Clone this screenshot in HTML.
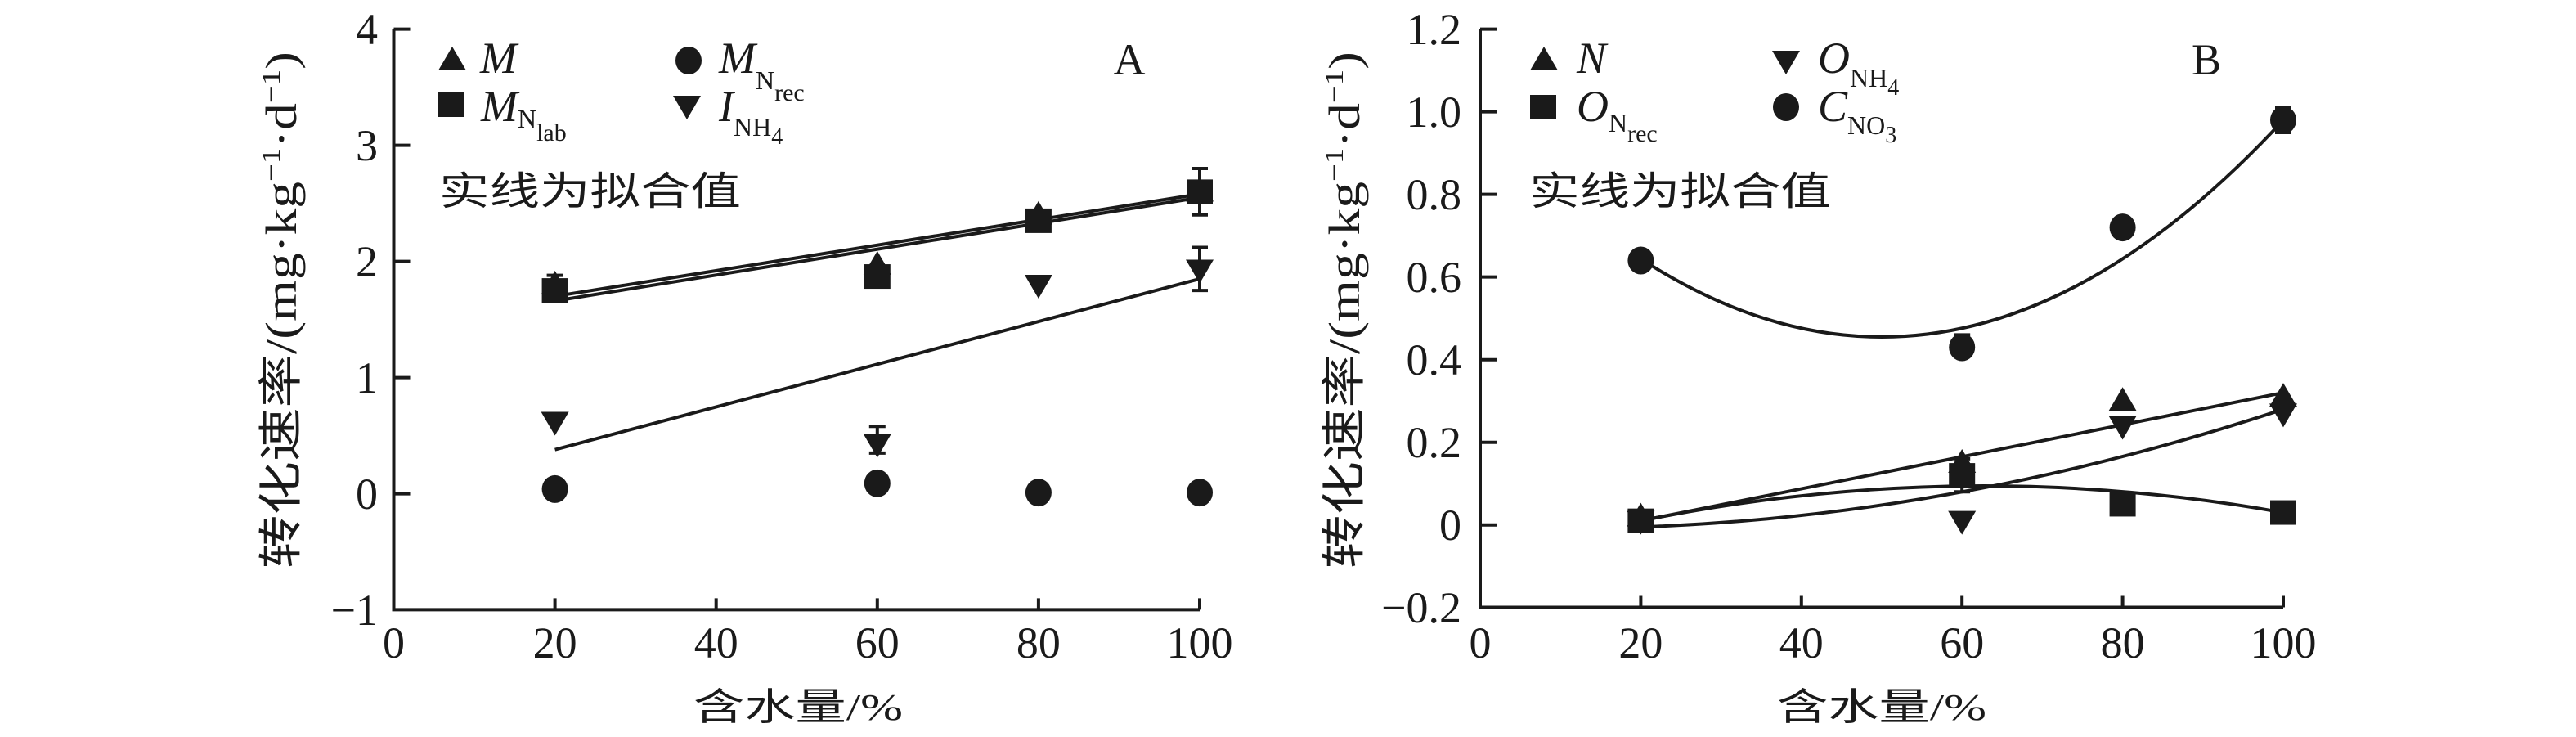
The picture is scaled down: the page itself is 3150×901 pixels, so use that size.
<!DOCTYPE html>
<html><head><meta charset="utf-8"><style>
html,body{margin:0;padding:0;background:#fff;}
svg{display:block}
text{font-family:"Liberation Serif","Noto Serif CJK SC",serif;fill:#1a1a1a}
.cj{font-family:"Liberation Serif","Noto Sans CJK SC",sans-serif}
</style></head><body>
<svg id="s" width="3150" height="901" viewBox="0 0 3150 901" xmlns="http://www.w3.org/2000/svg">
<g stroke="#1a1a1a" stroke-width="4" fill="none">
<path d="M481.5 35 V745.4 H1467"/>
<path d="M481.5 35.6 h20 M481.5 177.6 h20 M481.5 319.6 h20 M481.5 461.6 h20 M481.5 603.6 h20"/>
<path d="M678.6 745.4 v-14 M875.7 745.4 v-14 M1072.8 745.4 v-14 M1269.9 745.4 v-14 M1467 745.4 v-14"/>
<path d="M1810 35 V742.5 H2792"/>
<path d="M1810 35.6 h20 M1810 136.6 h20 M1810 237.6 h20 M1810 338.6 h20 M1810 439.7 h20 M1810 540.7 h20 M1810 641.7 h20"/>
<path d="M2006.4 742.5 v-14 M2202.8 742.5 v-14 M2399.2 742.5 v-14 M2595.6 742.5 v-14 M2792 742.5 v-14"/>
</g>
<g font-size="54" text-anchor="end">
<text x="462" y="54">4</text><text x="462" y="196">3</text><text x="462" y="338">2</text><text x="462" y="480">1</text><text x="462" y="622">0</text><text x="462" y="764">−1</text>
<text x="1787" y="54">1.2</text><text x="1787" y="155">1.0</text><text x="1787" y="256">0.8</text><text x="1787" y="357">0.6</text><text x="1787" y="458">0.4</text><text x="1787" y="559">0.2</text><text x="1787" y="660">0</text><text x="1787" y="761">−0.2</text>
</g>
<g font-size="54" text-anchor="middle">
<text x="481.5" y="804">0</text><text x="678.6" y="804">20</text><text x="875.7" y="804">40</text><text x="1072.8" y="804">60</text><text x="1269.9" y="804">80</text><text x="1467" y="804">100</text>
<text x="1810" y="804">0</text><text x="2006.4" y="804">20</text><text x="2202.8" y="804">40</text><text x="2399.2" y="804">60</text><text x="2595.6" y="804">80</text><text x="2792" y="804">100</text>
</g>
<text class="cj" x="848" y="880" font-size="46" textLength="256" lengthAdjust="spacingAndGlyphs">含水量/%</text>
<text class="cj" x="2173" y="880" font-size="46" textLength="256" lengthAdjust="spacingAndGlyphs">含水量/%</text>
<text class="cj" x="537" y="250" font-size="48" textLength="369" lengthAdjust="spacingAndGlyphs">实线为拟合值</text>
<text class="cj" x="1870" y="250" font-size="48" textLength="369" lengthAdjust="spacingAndGlyphs">实线为拟合值</text>
<g transform="translate(362,379) rotate(-90)"><text class="cj" x="-316" y="0" font-size="54" textLength="632" lengthAdjust="spacingAndGlyphs">转化速率/(mg·kg<tspan font-size="32" dy="-20">−1</tspan><tspan dy="20">·d</tspan><tspan font-size="32" dy="-20">−1</tspan><tspan dy="20">)</tspan></text></g>
<g transform="translate(1662,379) rotate(-90)"><text class="cj" x="-316" y="0" font-size="54" textLength="632" lengthAdjust="spacingAndGlyphs">转化速率/(mg·kg<tspan font-size="32" dy="-20">−1</tspan><tspan dy="20">·d</tspan><tspan font-size="32" dy="-20">−1</tspan><tspan dy="20">)</tspan></text></g>
<g font-size="54" font-style="italic">
<text x="587" y="89">M</text>
<text x="879" y="89">M<tspan font-style="normal" font-size="32" dy="20">N</tspan><tspan font-style="normal" font-size="30" dy="14">rec</tspan></text>
<text x="588" y="148">M<tspan font-style="normal" font-size="32" dy="8">N</tspan><tspan font-style="normal" font-size="30" dy="16">lab</tspan></text>
<text x="879" y="148">I<tspan font-style="normal" font-size="32" dy="18">NH</tspan><tspan font-style="normal" font-size="28" dy="10">4</tspan></text>
<text x="1928" y="89">N</text>
<text x="2223" y="89">O<tspan font-style="normal" font-size="32" dy="17">NH</tspan><tspan font-style="normal" font-size="28" dy="10">4</tspan></text>
<text x="1928" y="148">O<tspan font-style="normal" font-size="32" dy="13">N</tspan><tspan font-style="normal" font-size="30" dy="12">rec</tspan></text>
<text x="2223" y="148">C<tspan font-style="normal" font-size="32" dy="16">NO</tspan><tspan font-style="normal" font-size="28" dy="10">3</tspan></text>
</g>
<text x="1381" y="91" font-size="54" text-anchor="middle">A</text>
<text x="2698" y="91" font-size="54" text-anchor="middle">B</text>
<g id="d" fill="#1a1a1a" stroke="#1a1a1a"></g>
</svg>
<script>
var g=document.getElementById('d'),NS='http://www.w3.org/2000/svg';
function el(t,a){var e=document.createElementNS(NS,t);for(var k in a)e.setAttribute(k,a[k]);g.appendChild(e);return e;}
function mk(type,x,y){
 if(type=='c')el('ellipse',{cx:x,cy:y,rx:16,ry:17,stroke:'none'});
 else if(type=='s')el('rect',{x:x-16,y:y-15,width:32,height:30,stroke:'none'});
 else if(type=='t')el('path',{d:'M'+x+' '+(y-17)+'L'+(x+17)+' '+(y+12)+'L'+(x-17)+' '+(y+12)+'Z',stroke:'none'});
 else el('path',{d:'M'+x+' '+(y+17)+'L'+(x+17)+' '+(y-12)+'L'+(x-17)+' '+(y-12)+'Z',stroke:'none'});}
function eb(x,y1,y2){el('path',{d:'M'+x+' '+y1+'V'+y2+'M'+(x-10)+' '+y1+'h20M'+(x-10)+' '+y2+'h20',fill:'none','stroke-width':4});}
var AX=function(x){return 481.5+x*9.855},AY=function(v){return 603.6-v*142};
var BX=function(x){return 1810+x*9.82},BY=function(v){return 641.7-v*505};
function line(X,Y,x1,y1,x2,y2){el('path',{d:'M'+X(x1)+' '+Y(y1)+'L'+X(x2)+' '+Y(y2),fill:'none','stroke-width':4});}
function quad(X,Y,x1,y1,cy,x2,y2){el('path',{d:'M'+X(x1)+' '+Y(y1)+'Q'+X((x1+x2)/2)+' '+Y(cy)+' '+X(x2)+' '+Y(y2),fill:'none','stroke-width':4});}
line(AX,AY,20,1.70,100,2.58);line(AX,AY,20,1.66,100,2.55);line(AX,AY,20,0.38,100,1.85);
eb(AX(100),AY(2.4),AY(2.8));eb(AX(100),AY(1.75),AY(2.12));eb(AX(60),AY(0.35),AY(0.58));eb(AX(20),AY(1.7),AY(1.88));
var xs=[20,60,80,100];
[1.8,1.97,2.4,2.6].forEach(function(v,i){mk('t',AX(xs[i]),AY(v))});
[1.75,1.87,2.35,2.6].forEach(function(v,i){mk('s',AX(xs[i]),AY(v))});
[0.04,0.09,0.01,0.01].forEach(function(v,i){mk('c',AX(xs[i]),AY(v))});
[0.62,0.43,1.8,1.93].forEach(function(v,i){mk('d',AX(xs[i]),AY(v))});
quad(BX,BY,20,0.644,0.14,100,0.98);line(BX,BY,20,0.01,100,0.32);
quad(BX,BY,20,-0.005,0.0225,100,0.28);quad(BX,BY,20,0.01,0.168,100,0.03);
eb(BX(100),BY(0.95),BY(1.01));eb(BX(60),BY(0.41),BY(0.46));eb(BX(60),BY(0.08),BY(0.16));
[0.64,0.43,0.72,0.98].forEach(function(v,i){mk('c',BX(xs[i]),BY(v))});
[0.02,0.15,0.3,0.31].forEach(function(v,i){mk('t',BX(xs[i]),BY(v))});
[0.01,0.01,0.24,0.27].forEach(function(v,i){mk('d',BX(xs[i]),BY(v))});
[0.01,0.12,0.05,0.03].forEach(function(v,i){mk('s',BX(xs[i]),BY(v))});
mk('t',553,74);mk('c',842,74);mk('s',552,128);mk('d',840,129);
mk('t',1888,74);mk('d',2184,74);mk('s',1887,131);mk('c',2184,131);
</script>
</body></html>
